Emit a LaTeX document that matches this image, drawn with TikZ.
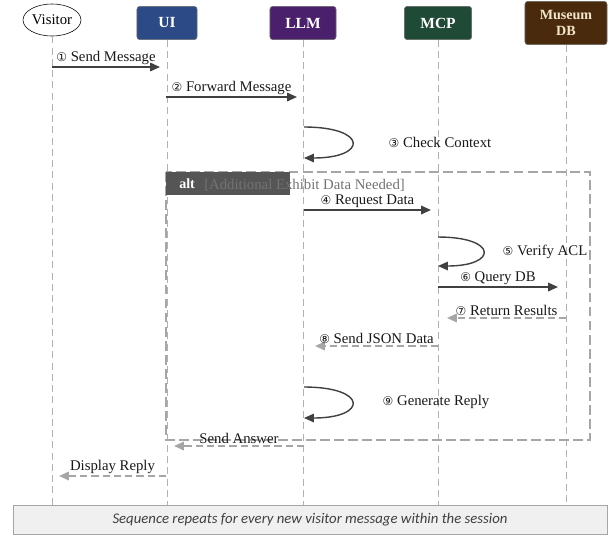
\documentclass[tikz,border=0pt]{standalone}
\usepackage{fontspec}
\setmainfont{Liberation Serif}
\newfontfamily\circfont{DejaVu Sans}
\newfontfamily\notefont{Carlito}
\usetikzlibrary{calc}
\usetikzlibrary{arrows.meta}
\usetikzlibrary{shapes.geometric}

\definecolor{uiblue}{HTML}{2C4A86}
\definecolor{llmpurple}{HTML}{4A1F6B}
\definecolor{mcpgreen}{HTML}{1F4A36}
\definecolor{dbbrown}{HTML}{4A2A0D}
\definecolor{dbtext}{HTML}{F3E6C8}
\definecolor{altgray}{HTML}{555555}

\newcommand{\stepno}[1]{{\circfont\fontsize{8.5}{10}\selectfont #1}}

\tikzset{
  header/.style={draw=black!60, rounded corners=2pt, text=white, font=\rmfamily\fontsize{11}{12}\selectfont\bfseries, inner sep=2pt},
  lifeline/.style={draw=black!30, line width=0.7pt, dash pattern=on 5pt off 3pt},
  callmsg/.style={draw=black!75, line width=1.3pt, -{Triangle[length=7pt,width=6pt]}},
  replymsg/.style={draw=black!35, line width=1.3pt, dash pattern=on 5pt off 3pt, -{Triangle[length=7pt,width=6pt]}},
  msglabel/.style={font=\rmfamily\fontsize{10.5}{12}\selectfont, text=black!90, inner sep=1pt},
}

\begin{document}
\begin{tikzpicture}[x=0.025cm,y=-0.025cm]

\useasboundingbox (0,0) rectangle (616,535);

% participants
\node[draw=black, ellipse, minimum width=1.45cm, minimum height=0.8cm, inner sep=0pt, font=\fontsize{10.5}{12}\selectfont] (visitor) at (52,20) {Visitor};
\node[header, fill=uiblue, minimum width=1.5cm, minimum height=0.83cm] (ui) at (167,23) {UI};
\node[header, fill=llmpurple, minimum width=1.65cm, minimum height=0.83cm] (llm) at (303,23) {LLM};
\node[header, fill=mcpgreen, minimum width=1.68cm, minimum height=0.83cm] (mcp) at (438,23) {MCP};
\node[header, fill=dbbrown, text=dbtext, minimum width=2.05cm, minimum height=1.08cm, align=center, font=\rmfamily\fontsize{10}{11}\selectfont\bfseries] (db) at (566,23) {Museum\\DB};

% lifelines
\coordinate (visitorEnd) at (visitor.south |- 0,506);
\coordinate (uiEnd) at (ui.south |- 0,506);
\coordinate (llmEnd) at (llm.south |- 0,506);
\coordinate (mcpEnd) at (mcp.south |- 0,506);
\coordinate (dbEnd) at (db.south |- 0,506);
\draw[lifeline] (visitor.south) -- (visitorEnd);
\draw[lifeline] (ui.south) -- (uiEnd);
\draw[lifeline] (llm.south) -- (llmEnd);
\draw[lifeline] (mcp.south) -- (mcpEnd);
\draw[lifeline] (db.south) -- (dbEnd);

% alt frame
\coordinate (altNW) at (166,172);
\coordinate (altSE) at (590,440);
\draw[draw=black!35, line width=1.3pt, dash pattern=on 7pt off 3pt] (altNW) rectangle (altSE);
\fill[altgray] (altNW) rectangle (290,195);
\node[text=white, font=\rmfamily\fontsize{10}{12}\selectfont\bfseries, anchor=west, inner sep=0pt] (altTag) at (179,184) {alt};
\node[text=black!55, font=\rmfamily\fontsize{10.5}{12}\selectfont, anchor=west, inner sep=0pt] (altCond) at (204,185) {[Additional Exhibit Data Needed]};

% messages
\coordinate (m1a) at (52,67);   \coordinate (m1b) at (160,67);
\coordinate (m2a) at (166,97);  \coordinate (m2b) at (297,97);
\coordinate (m3a) at (304,127); \coordinate (m3b) at (304,158);
\coordinate (m4a) at (304,210); \coordinate (m4b) at (431,210);
\coordinate (m5a) at (438,237); \coordinate (m5b) at (438,266);
\coordinate (m6a) at (438,287); \coordinate (m6b) at (558,287);
\coordinate (m7a) at (566,318); \coordinate (m7b) at (447,318);
\coordinate (m8a) at (438,346); \coordinate (m8b) at (315,346);
\coordinate (m9a) at (304,387); \coordinate (m9b) at (304,418);
\coordinate (m10a) at (304,446); \coordinate (m10b) at (174,446);
\coordinate (m11a) at (166,476); \coordinate (m11b) at (59,476);

\draw[callmsg] (m1a) -- (m1b) node[msglabel, above, midway] {\stepno{①} Send Message};
\draw[callmsg] (m2a) -- (m2b) node[msglabel, above, midway] {\stepno{②} Forward Message};
\draw[callmsg, line width=1pt] (m3a) .. controls +(64,0) and +(64,0) .. (m3b);
\node[msglabel] (m3label) at (440,142) {\stepno{③} Check Context};
\draw[callmsg] (m4a) -- (m4b) node[msglabel, above, midway] {\stepno{④} Request Data};
\draw[callmsg, line width=1pt] (m5a) .. controls +(60,0) and +(60,0) .. (m5b);
\node[msglabel] (m5label) at (545,252) {\stepno{⑤} Verify ACL};
\draw[callmsg] (m6a) -- (m6b) node[msglabel, above, midway] {\stepno{⑥} Query DB};
\draw[replymsg] (m7a) -- (m7b) node[msglabel, above, midway] {\stepno{⑦} Return Results};
\draw[replymsg] (m8a) -- (m8b) node[msglabel, above, midway] {\stepno{⑧} Send JSON Data};
\draw[callmsg, line width=1pt] (m9a) .. controls +(64,0) and +(64,0) .. (m9b);
\node[msglabel] (m9label) at (436,402) {\stepno{⑨} Generate Reply};
\draw[replymsg] (m10a) -- (m10b) node[msglabel, above, midway] {Send Answer};
\draw[replymsg] (m11a) -- (m11b) node[msglabel, above, midway] {Display Reply};

% footer note
\node[draw=black!35, fill=black!6, minimum width=14.85cm, minimum height=0.72cm, inner sep=0pt,
      font=\notefont\itshape\fontsize{10.5}{12}\selectfont, text=black!75] (note) at (310,520) {Sequence repeats for every new visitor message within the session};

\end{tikzpicture}
\end{document}
